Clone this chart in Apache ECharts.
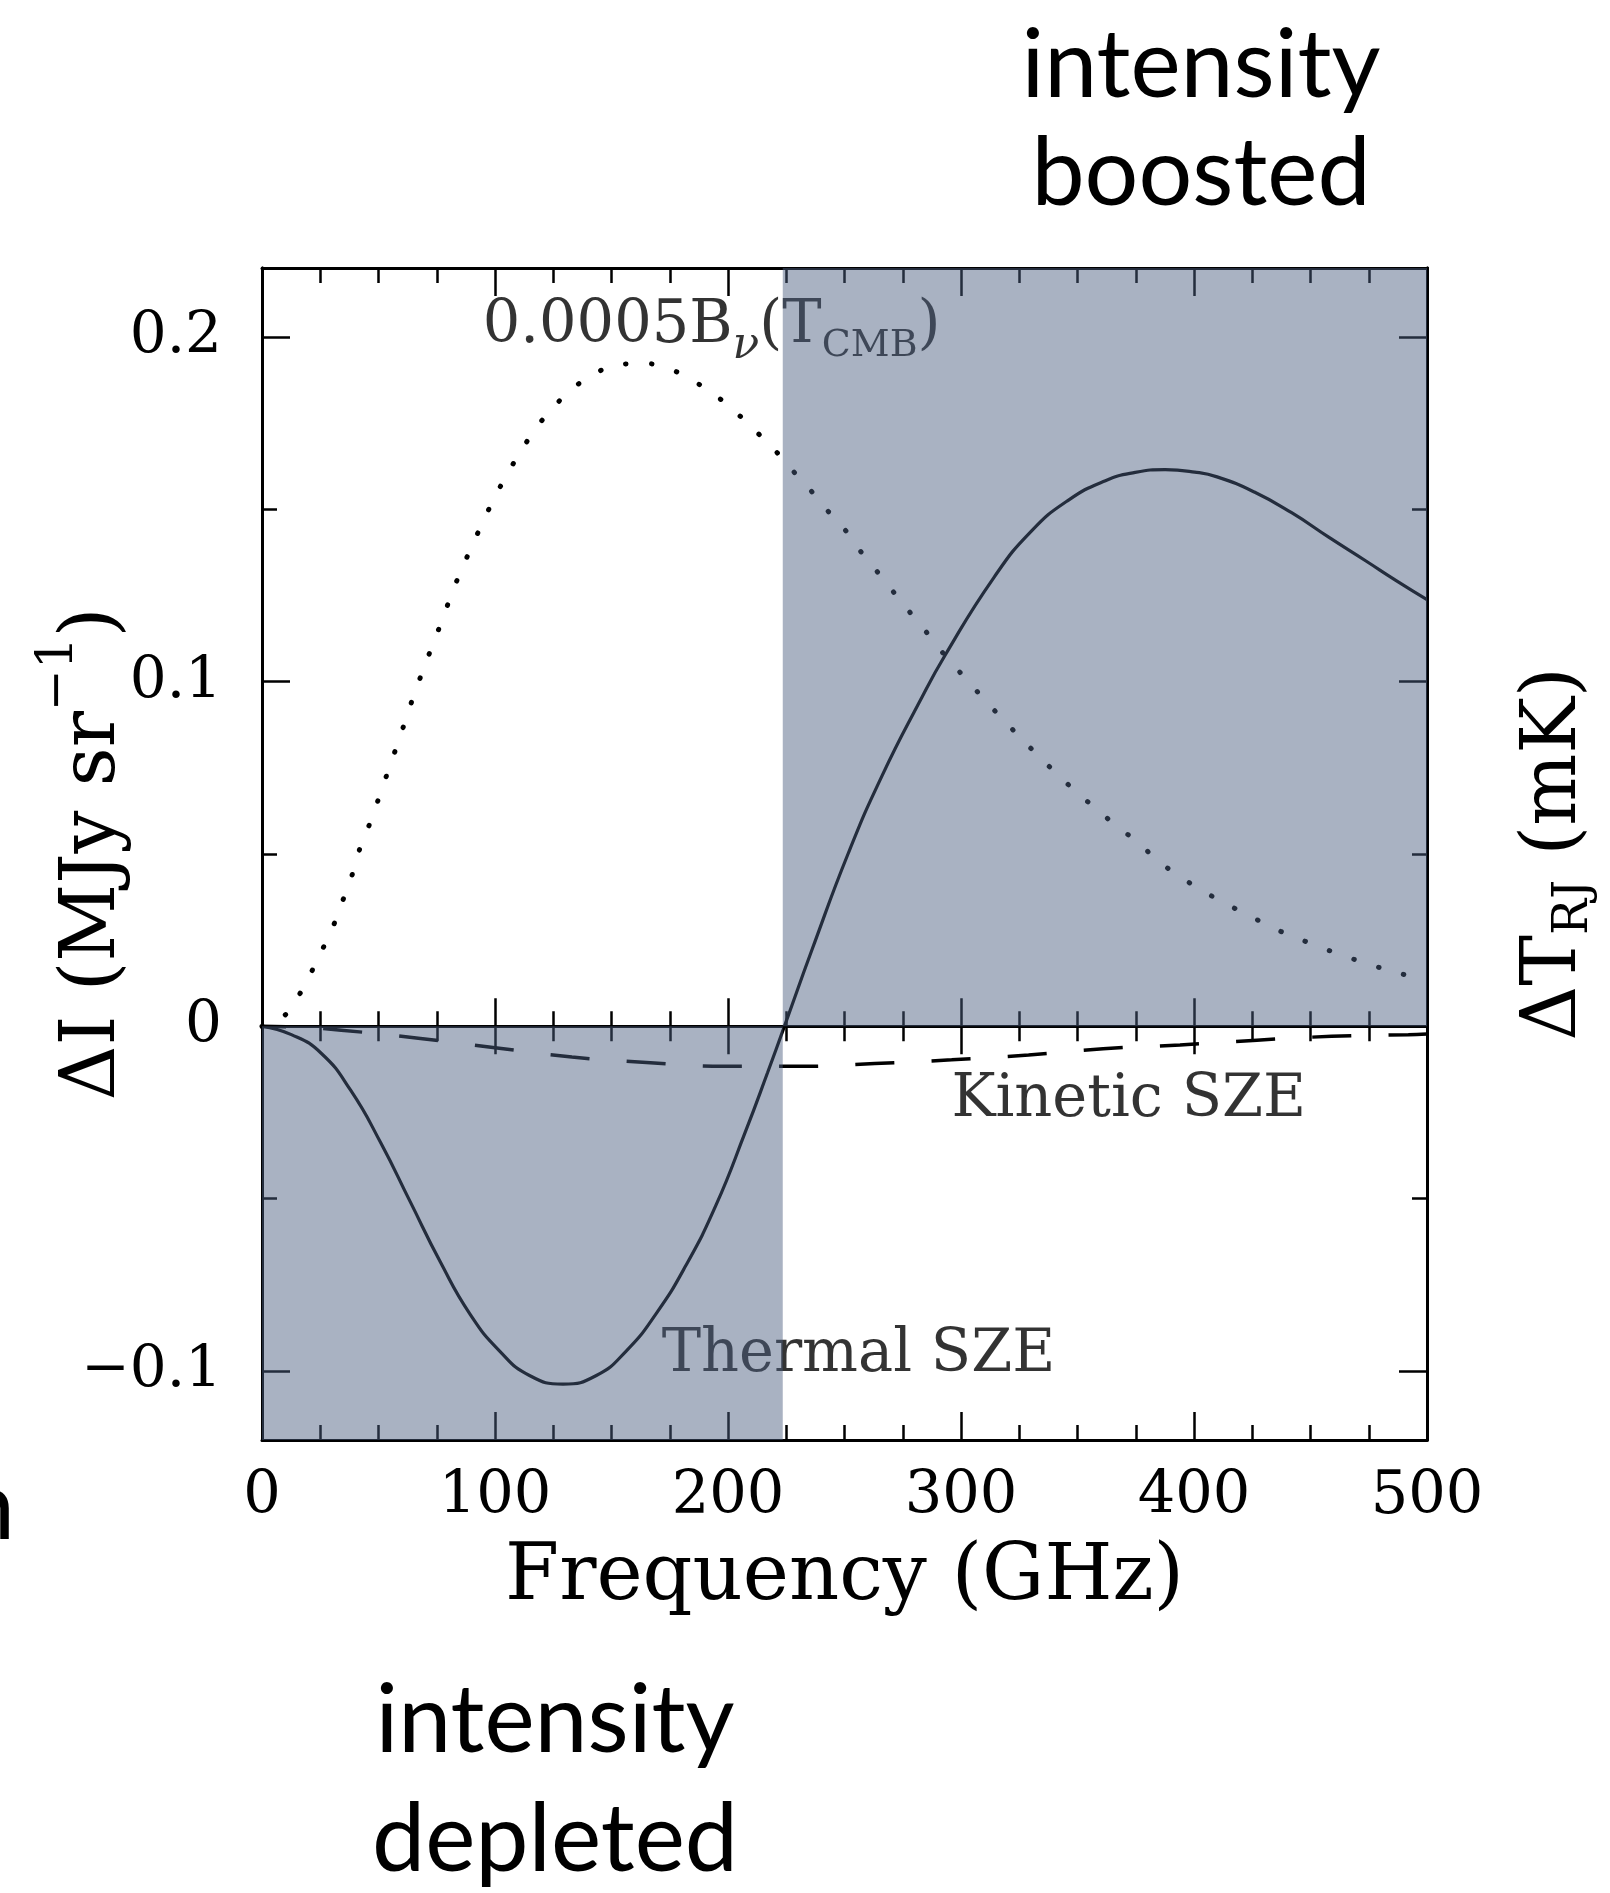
<!DOCTYPE html>
<html><head><meta charset="utf-8">
<script src="https://cdn.jsdelivr.net/npm/echarts@6/dist/echarts.min.js"></script>
<style>html,body{margin:0;padding:0;background:#fff}#c{width:1610px;height:1893px}</style>
</head><body><div id="c"></div>
<script>
// ---- axis ranges / ticks ----
const xMin = 0, xMax = 500, xMajorStep = 100;
const yMin = -0.12, yMax = 0.22;
const yMajorTicks = [-0.1, 0, 0.1, 0.2];
const yMinorTicks = [-0.05, 0.05, 0.15];
const crossoverGHz = 223.5;

// ---- Thermal SZE (solid) ----
const thermalFreq = [0, 12.6, 25.4, 38.1, 50.9, 63.7, 76.5, 89.2, 102, 114.8, 129.2, 143.5, 156.3, 169.1, 181.9, 194.7, 207.4, 217, 224.2, 236.2, 251.8, 266.2, 282.1, 293.3, 314.1, 330.1, 346, 362, 374.8, 387.6, 400.3, 409.9, 425.9, 441.9, 457.8, 473.8, 486.6, 500];
const thermalVal  = [0, -0.0024, -0.0078, -0.0186, -0.0337, -0.051, -0.0683, -0.0834, -0.0942, -0.1013, -0.1038, -0.1013, -0.0942, -0.0834, -0.0694, -0.0521, -0.0307, -0.0134, 0, 0.0225, 0.0505, 0.0728, 0.094, 0.1078, 0.1302, 0.1436, 0.1526, 0.1583, 0.1607, 0.1615, 0.1608, 0.1594, 0.155, 0.149, 0.1419, 0.135, 0.1294, 0.1238];

// ---- Kinetic SZE (dashed) ----
const kineticFreq = [0, 15, 34, 68, 100, 133, 165, 198, 231, 263, 296, 329, 361, 394, 427, 459, 492, 500];
const kineticVal  = [0, -0.0002, -0.0011, -0.0035, -0.0062, -0.0089, -0.0105, -0.0116, -0.0116, -0.0108, -0.0097, -0.0083, -0.0065, -0.0054, -0.004, -0.0029, -0.0024, -0.0022];

// ---- 0.0005 B_nu(T_CMB) (dotted) ----
const planckFreq = [0, 9.1, 15.8, 21, 26.2, 31, 35, 38.9, 42.6, 46.9, 50.6, 54.4, 58.1, 61.8, 65.4, 69.4, 73.4, 77.6, 81.4, 85.7, 90.4, 95.2, 100.1, 105.5, 111.4, 117.8, 125.2, 133.3, 142.4, 153.1, 164.3, 176, 186, 195.5, 204.6, 212.5, 220.7, 228.2, 235.7, 243, 251, 257.7, 264.9, 272.1, 279.3, 286.8, 293.6, 301.3, 309, 316.8, 324.6, 332.6, 340.8, 349.2, 358.2, 367, 375.9, 384.8, 394.4, 404, 413.9, 424.3, 434.4, 444.7, 455.6, 466.3, 477, 488.5, 498.6];
const planckVal  = [0, 0.0028, 0.009, 0.0155, 0.0227, 0.0298, 0.0371, 0.0444, 0.0528, 0.0599, 0.0672, 0.0746, 0.0818, 0.0892, 0.0965, 0.1038, 0.111, 0.1183, 0.1255, 0.1326, 0.1398, 0.1469, 0.1538, 0.1605, 0.1672, 0.1737, 0.1797, 0.185, 0.1892, 0.192, 0.1923, 0.1904, 0.1869, 0.1826, 0.1774, 0.1723, 0.1667, 0.1609, 0.1553, 0.1494, 0.1434, 0.1371, 0.1312, 0.1251, 0.1191, 0.113, 0.1072, 0.1014, 0.0956, 0.0899, 0.0844, 0.0789, 0.0735, 0.0682, 0.063, 0.058, 0.0534, 0.0479, 0.0433, 0.0392, 0.0355, 0.0319, 0.0284, 0.0255, 0.0226, 0.02, 0.0176, 0.0153, 0.0138];

// ---- in-plot annotations (data coords) ----
const annoX = [193, 372, 256];
const annoY = [0.203, -0.0215, -0.0955];
const annoText = ['{n|0.0005B}{sub|ν}{n|(T}{sub2|CMB}{n|)}', '{n|Kinetic SZE}', '{n|Thermal SZE}'];

const zip = (a, b) => a.map((v, i) => [v, b[i]]);
const SERIF = '"DejaVu Serif", "Liberation Serif", serif';
const fmtY = v => (Math.abs(v) < 1e-9 ? '0' : (v < 0 ? '\u2212' + String(Math.abs(v)) : String(v)));

const frame = { show: true, onZero: false, lineStyle: { color: '#000', width: 3 } };
const majorTickX = { show: true, inside: true, length: 28, lineStyle: { color: '#000', width: 2.5 } };
const minorTickX = { show: true, splitNumber: 4, length: 15, lineStyle: { color: '#000', width: 2.5 } };
const baseX = { type: 'value', min: xMin, max: xMax, interval: xMajorStep, splitLine: { show: false } };
const baseY = { type: 'value', min: yMin, max: yMax, splitLine: { show: false } };

const chart = echarts.init(document.getElementById('c'), null, { renderer: 'canvas' });
chart.setOption({
  backgroundColor: '#fff',
  animation: false,
  grid: { left: 262, top: 268, width: 1165, height: 1172, containLabel: false, outerBoundsMode: 'none' },
  xAxis: [
    Object.assign({}, baseX, { position: 'bottom', axisLine: frame, axisTick: majorTickX, minorTick: minorTickX,
      axisLabel: { show: true, margin: 28, color: '#000', fontFamily: SERIF, fontSize: 59 },
      name: 'Frequency (GHz)', nameLocation: 'middle', nameGap: 100,
      nameTextStyle: { color: '#000', fontFamily: SERIF, fontSize: 78 } }),
    Object.assign({}, baseX, { position: 'top', axisLine: frame, axisTick: majorTickX, minorTick: minorTickX, axisLabel: { show: false } }),
    Object.assign({}, baseX, { position: 'bottom', axisLine: { show: true, onZero: true, onZeroAxisIndex: 0, lineStyle: { color: '#000', width: 3 } },
      axisTick: majorTickX, minorTick: minorTickX, axisLabel: { show: false } }),
    Object.assign({}, baseX, { position: 'top', axisLine: { show: true, onZero: true, onZeroAxisIndex: 1, lineStyle: { color: '#000', width: 3 } },
      axisTick: majorTickX, minorTick: minorTickX, axisLabel: { show: false } })
  ],
  yAxis: [
    Object.assign({}, baseY, { position: 'left', axisLine: frame,
      axisTick: { show: true, inside: true, length: 28, customValues: yMajorTicks, lineStyle: { color: '#000', width: 2.5 } },
      axisLabel: { show: true, margin: 40, customValues: yMajorTicks, formatter: fmtY, color: '#000', fontFamily: SERIF, fontSize: 58 },
      name: '{n|ΔI (MJy sr}{sup|\u22121}{n|)}', nameLocation: 'middle', nameRotate: 90, nameGap: 108, nameMoveOverlap: false,
      nameTextStyle: { color: '#000', fontFamily: SERIF, fontSize: 76,
        rich: { n: { fontFamily: SERIF, fontSize: 76, color: '#000' }, sup: { fontFamily: SERIF, fontSize: 50, color: '#000', padding: [0, 0, 70, 0] } } } }),
    Object.assign({}, baseY, { position: 'left', axisLine: frame,
      axisTick: { show: true, inside: true, length: 15, customValues: yMinorTicks, lineStyle: { color: '#000', width: 2.5 } },
      axisLabel: { show: false } }),
    Object.assign({}, baseY, { position: 'right', axisLine: frame,
      axisTick: { show: true, inside: true, length: 28, customValues: yMajorTicks, lineStyle: { color: '#000', width: 2.5 } },
      axisLabel: { show: false },
      name: '{n|ΔT}{sub|RJ}{n| (mK)}', nameLocation: 'middle', nameRotate: 90, nameGap: 84, nameMoveOverlap: false,
      nameTextStyle: { color: '#000', fontFamily: SERIF, fontSize: 76,
        rich: { n: { fontFamily: SERIF, fontSize: 76, color: '#000' }, sub: { fontFamily: SERIF, fontSize: 48, color: '#000', padding: [40, 0, 0, 0] } } } }),
    Object.assign({}, baseY, { position: 'right', axisLine: frame,
      axisTick: { show: true, inside: true, length: 15, customValues: yMinorTicks, lineStyle: { color: '#000', width: 2.5 } },
      axisLabel: { show: false } })
  ],
  graphic: [
    { type: 'text', style: { text: 'intensity', x: 1201, y: 66, textAlign: 'center', textVerticalAlign: 'middle', font: '95px Lato', fill: '#000' } },
    { type: 'text', style: { text: 'boosted', x: 1201, y: 174, textAlign: 'center', textVerticalAlign: 'middle', font: '95px Lato', fill: '#000' } },
    { type: 'text', style: { text: 'intensity', x: 555, y: 1721, textAlign: 'center', textVerticalAlign: 'middle', font: '95px Lato', fill: '#000' } },
    { type: 'text', style: { text: 'depleted', x: 555, y: 1840, textAlign: 'center', textVerticalAlign: 'middle', font: '95px Lato', fill: '#000' } },
    { type: 'text', style: { text: 'n', x: 15, y: 1508, textAlign: 'right', textVerticalAlign: 'middle', font: '95px Lato', fill: '#000' } }
  ],
  series: [
    { name: 'Thermal SZE', type: 'line', xAxisIndex: 0, yAxisIndex: 0, data: zip(thermalFreq, thermalVal),
      showSymbol: false, smooth: 0.5, z: 3, lineStyle: { color: '#000', width: 3.2 } },
    { name: 'Kinetic SZE', type: 'line', xAxisIndex: 0, yAxisIndex: 0, data: zip(kineticFreq, kineticVal),
      showSymbol: false, smooth: 0.4, z: 3, lineStyle: { color: '#000', width: 3.5, type: [39, 37.3], dashOffset: 15 } },
    { name: '0.0005 B_nu(T_CMB)', type: 'line', xAxisIndex: 0, yAxisIndex: 0, data: zip(planckFreq, planckVal),
      showSymbol: false, smooth: 0.4, z: 3, lineStyle: { color: '#000', width: 5, type: [0.5, 25.5], cap: 'round' } },
    { name: 'labels', type: 'scatter', xAxisIndex: 0, yAxisIndex: 0, data: zip(annoX, annoY), symbolSize: 0, z: 4, silent: true,
      label: { show: true, position: 'inside', formatter: p => annoText[p.dataIndex], color: '#000',
        rich: { n: { fontFamily: SERIF, fontSize: 59, color: '#000' },
                sub: { fontFamily: SERIF, fontStyle: 'italic', fontSize: 44, color: '#000', padding: [40, 0, 0, 0] },
                sub2: { fontFamily: SERIF, fontSize: 38, color: '#000', padding: [40, 0, 0, 0] } } } },
    { name: 'shade', type: 'line', xAxisIndex: 0, yAxisIndex: 0, data: [], z: 10, silent: true,
      markArea: { silent: true, z: 10, itemStyle: { color: 'rgba(75,95,128,0.48)' },
        data: [ [ { coord: [xMin, yMin] }, { coord: [crossoverGHz, 0] } ],
                [ { coord: [crossoverGHz, 0] }, { coord: [xMax, yMax] } ] ] } }
  ]
});
</script></body></html>
